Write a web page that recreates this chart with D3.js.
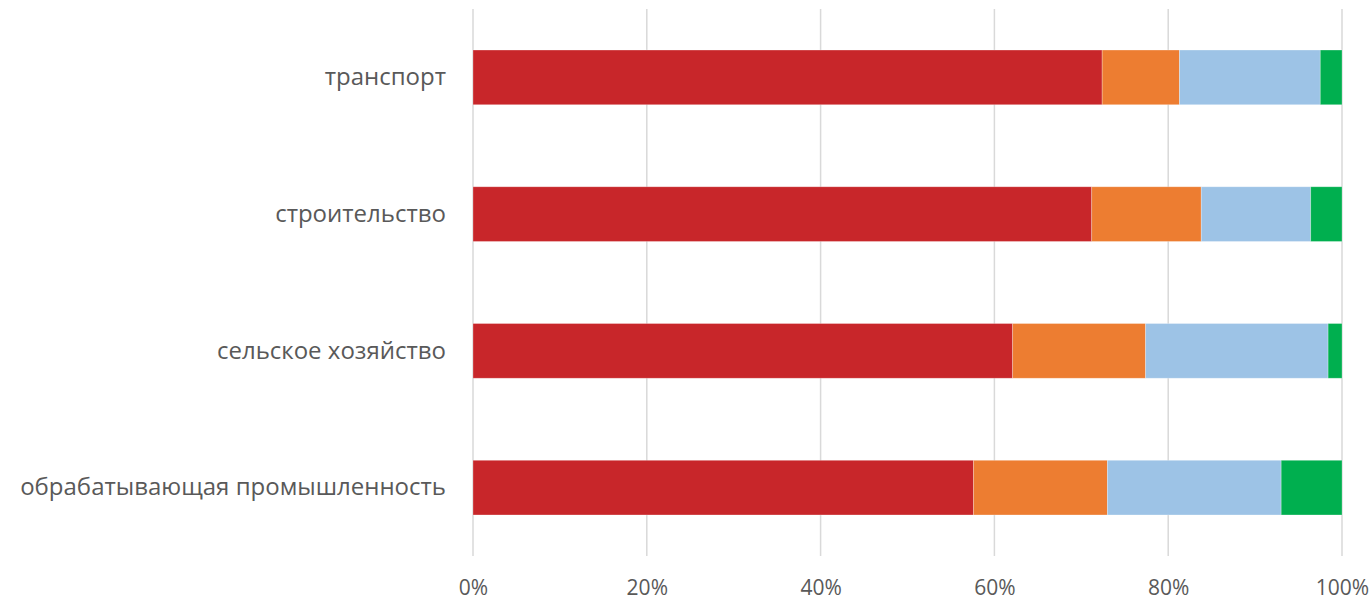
<!DOCTYPE html>
<html>
<head>
<meta charset="utf-8">
<script src="https://cdn.jsdelivr.net/npm/d3@7"></script>
<style>
  html, body { margin: 0; padding: 0; background: #ffffff; }
  svg text { font-family: "Open Sans", "Noto Sans", sans-serif; fill: #595959; }
</style>
</head>
<body>
<svg id="chart" width="1370" height="606"></svg>
<script>
// Sectors, top to bottom
const categories = ["транспорт", "строительство", "сельское хозяйство", "обрабатывающая промышленность"];
// Share of each group within a sector, %
const series1 = [72.4, 71.2, 62.1, 57.6];
const series2 = [8.9, 12.6, 15.3, 15.4];
const series3 = [16.2, 12.6, 21.0, 20.0];
const series4 = [2.5, 3.6, 1.6, 7.0];
const seriesColors = ["#C8262A", "#ED7D31", "#9DC3E6", "#00AF4F"];
const tickValues = [0, 0.2, 0.4, 0.6, 0.8, 1.0];

const svg = d3.select("#chart");
const margin = { top: 9, right: 28, bottom: 50, left: 473 };
const W = 1370, H = 606;

const x = d3.scaleLinear().domain([0, 1]).range([margin.left, W - margin.right]);
const y = d3.scaleBand().domain(categories).range([margin.top, H - margin.bottom])
  .paddingInner(0.6).paddingOuter(0.3);

// vertical gridlines
svg.append("g").selectAll("line").data(tickValues).join("line")
  .attr("x1", d => x(d)).attr("x2", d => x(d))
  .attr("y1", margin.top).attr("y2", H - margin.bottom)
  .attr("stroke", "#D9D9D9").attr("stroke-width", 1.5);

// build stacked data
const table = categories.map((c, i) => ({
  cat: c, s1: series1[i], s2: series2[i], s3: series3[i], s4: series4[i]
}));
const keys = ["s1", "s2", "s3", "s4"];
const stacked = d3.stack().keys(keys).offset(d3.stackOffsetExpand)(table);

svg.append("g").selectAll("g").data(stacked).join("g")
  .attr("fill", (d, i) => seriesColors[i])
  .selectAll("rect").data(d => d).join("rect")
  .attr("x", d => x(d[0]))
  .attr("width", d => x(d[1]) - x(d[0]))
  .attr("y", d => y(d.data.cat))
  .attr("height", y.bandwidth())
  .attr("stroke", "rgba(255,255,255,0.35)")
  .attr("stroke-width", 0.75);

// x axis tick labels
const xAxis = d3.axisBottom(x).tickValues(tickValues).tickFormat(d3.format(".0%")).tickSize(0).tickPadding(0);
const gx = svg.append("g").attr("transform", `translate(0, 578)`).call(xAxis);
gx.select(".domain").remove();
gx.selectAll("text").attr("font-size", 21).attr("dy", "0.8em")
  .style("font-family", "'Open Sans', sans-serif").attr("fill", "#595959");

// y axis category labels
const yAxis = d3.axisLeft(y).tickSize(0).tickPadding(27);
const gy = svg.append("g").attr("transform", `translate(${margin.left}, 0)`).call(yAxis);
gy.select(".domain").remove();
gy.selectAll("text").attr("font-size", 24)
  .style("font-family", "'Open Sans', sans-serif").attr("fill", "#595959");
</script>
</body>
</html>
